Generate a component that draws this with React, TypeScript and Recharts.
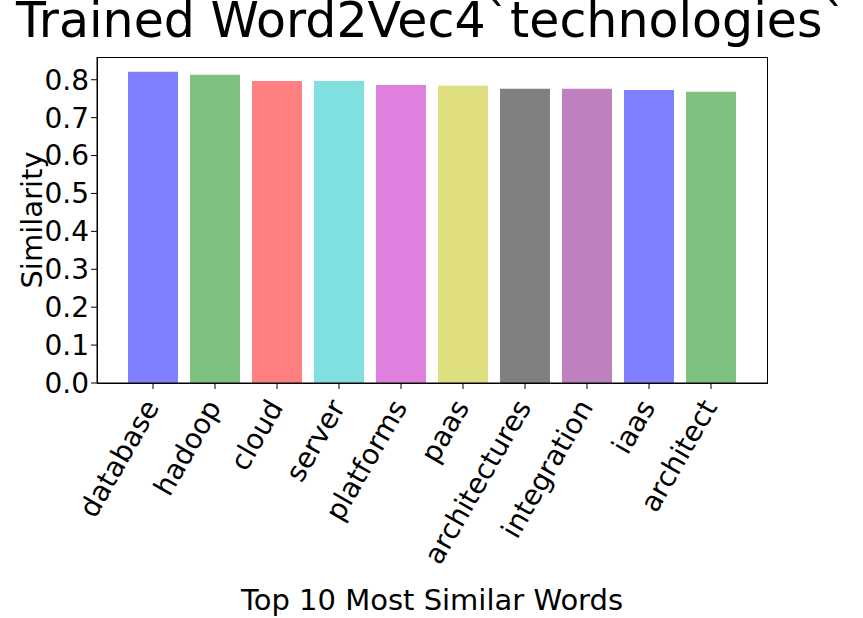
import { BarChart, Bar, XAxis, YAxis, Cell, Label } from "recharts";

const words = ["database", "hadoop", "cloud", "server", "platforms", "paas", "architectures", "integration", "iaas", "architect"];
const similarity = [0.821, 0.813, 0.797, 0.797, 0.786, 0.784, 0.776, 0.776, 0.773, 0.768];
const colors = ["#8080ff", "#80c080", "#ff8080", "#80dfdf", "#df80df", "#dfdf80", "#808080", "#bf80bf", "#8080ff", "#80c080"];
const yTicks = [0, 0.1, 0.2, 0.3, 0.4, 0.5, 0.6, 0.7, 0.8];

const data = words.map((w, i) => ({ word: w, value: similarity[i] }));
const font = "DejaVu Sans, sans-serif";

function RotTick(props: any) {
  const { x, y, payload } = props;
  return (
    <text x={x} y={y + 12} transform={`rotate(-60 ${x} ${y + 12})`} textAnchor="end" dominantBaseline="middle"
      fontSize={28} fontFamily={font} fill="#000">
      {payload.value}
    </text>
  );
}

export default function App() {
  return (
    <div style={{ position: "absolute", left: 0, top: 0, width: 863, height: 618, background: "#fff" }}>
      <div style={{ position: "absolute", top: -8, width: 863, textAlign: "center", fontFamily: font, fontSize: 49, whiteSpace: "nowrap" }}>
        Trained Word2Vec4`technologies`
      </div>
      <div style={{ position: "absolute", left: 97, top: 57, width: 669, height: 325, border: "1px solid #000", pointerEvents: "none" }} />
      <BarChart width={863} height={618} data={data} margin={{ top: 57, right: 96, left: 0, bottom: 0 }}>
        <XAxis dataKey="word" height={235} padding={{ left: 25, right: 25 }} tick={<RotTick />}
          tickLine={{ stroke: "#000" }} axisLine={{ stroke: "#000" }} interval={0}>
          <Label value="Top 10 Most Similar Words" position="insideBottom" offset={8} fontSize={29} fontFamily={font} fill="#000" />
        </XAxis>
        <YAxis width={97} domain={[0, 0.86]} ticks={yTicks} tickFormatter={(v) => v.toFixed(1)}
          tick={{ fontSize: 28, fontFamily: font, fill: "#000" }} tickLine={{ stroke: "#000" }} axisLine={{ stroke: "#000" }} interval={0}>
          <Label value="Similarity" angle={-90} position="insideLeft" offset={32} fontSize={29} fontFamily={font} fill="#000" style={{ textAnchor: "middle" }} />
        </YAxis>
        <Bar dataKey="value" barSize={50} isAnimationActive={false}>
          {data.map((d, i) => (
            <Cell key={d.word} fill={colors[i]} />
          ))}
        </Bar>
      </BarChart>
    </div>
  );
}
